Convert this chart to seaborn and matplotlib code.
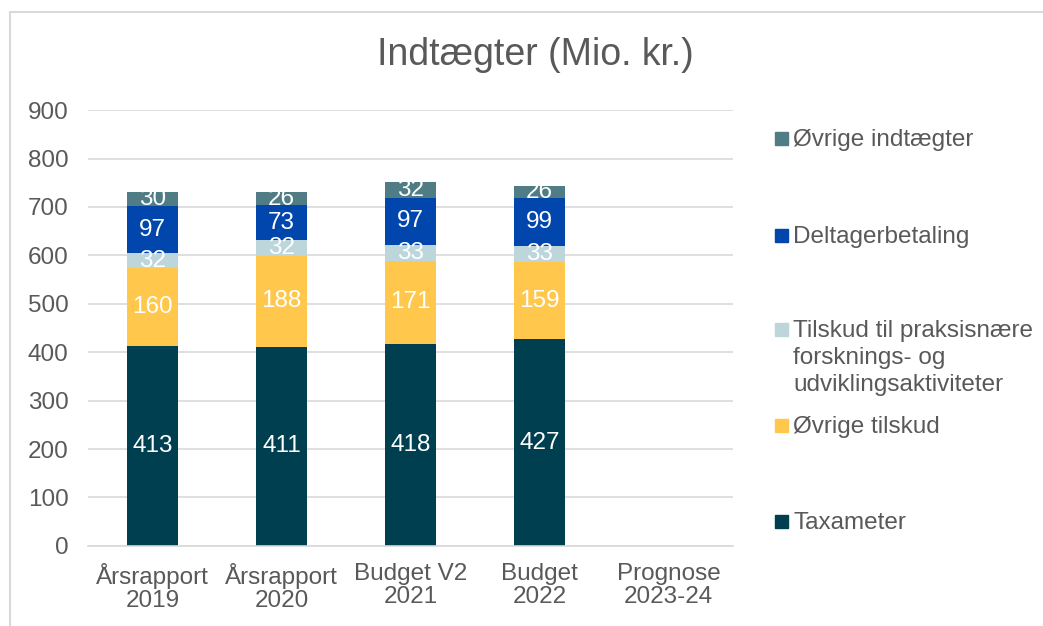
import numpy as np
import pandas as pd
import matplotlib.pyplot as plt
import seaborn as sns

# data
kategorier = ['Årsrapport\n2019', 'Årsrapport\n2020', 'Budget V2\n2021', 'Budget\n2022', 'Prognose\n2023-24']
serier = ['Taxameter', 'Øvrige tilskud',
          'Tilskud til praksisnære\nforsknings- og\nudviklingsaktiviteter',
          'Deltagerbetaling', 'Øvrige indtægter']
taxameter = [413, 411, 418, 427, np.nan]
oevrige_tilskud = [160, 188, 171, 159, np.nan]
tilskud_fou = [32, 32, 33, 33, np.nan]
deltagerbetaling = [97, 73, 97, 99, np.nan]
oevrige_indtaegter = [30, 26, 32, 26, np.nan]
farver = ['#003F4F', '#FFC84C', '#BDD6DC', '#0046AD', '#4F7C85']

vaerdier = [taxameter, oevrige_tilskud, tilskud_fou, deltagerbetaling, oevrige_indtaegter]

sns.set_theme(style='white')
plt.rcParams['font.family'] = ['Liberation Sans', 'DejaVu Sans']
graa = '#595959'
fs = 17.5

fig = plt.figure(figsize=(10.43, 6.26), dpi=100)
ax = fig.add_axes([0.0844, 0.128, 0.703 - 0.0844, 0.824 - 0.128])

# stack: draw cumulative totals from top down
df = pd.DataFrame(dict(zip(serier, vaerdier)))
df['kategori'] = kategorier
kum = df[serier].cumsum(axis=1)
for i in range(len(serier) - 1, -1, -1):
    sns.barplot(x=df['kategori'], y=kum[serier[i]], color=farver[i], width=0.4,
                saturation=1, ax=ax, zorder=2, linewidth=0)

# labels in segments
for j in range(len(kategorier)):
    bund = 0
    for i, s in enumerate(serier):
        v = df[s].iloc[j]
        if np.isnan(v):
            continue
        ax.text(j, bund + v / 2, f'{v:.0f}', ha='center', va='center',
                color='white', fontsize=fs, zorder=3)
        bund += v

ax.set_ylim(0, 900)
ax.set_yticks(range(0, 901, 100))
ax.set_xlim(-0.5, 4.5)
ax.yaxis.grid(True, color='#D9D9D9', linewidth=1.2, zorder=0)
ax.set_axisbelow(True)
for sp in ['top', 'right', 'left']:
    ax.spines[sp].set_visible(False)
ax.spines['bottom'].set_color('#D9D9D9')
ax.spines['bottom'].set_linewidth(1.2)
ax.tick_params(axis='both', length=0, labelsize=fs, labelcolor=graa)
ax.tick_params(axis='x', pad=12)
ax.tick_params(axis='y', pad=14)
for t in ax.get_xticklabels():
    t.set_linespacing(1.1)
ax.set_xlabel('')
ax.set_ylabel('')

fig.text(0.513, 0.912, 'Indtægter (Mio. kr.)', ha='center', va='center',
         fontsize=27, color=graa)

# legend, placed like the original (top entry first)
leg_y = [521, 425, 329, 235, 138]
for i in range(len(serier)):
    yf = 1 - leg_y[i] / 626
    fig.add_artist(plt.Rectangle((775 / 1043, yf - 6.5 / 626), 13 / 1043, 13 / 626,
                                 transform=fig.transFigure, color=farver[i]))
    fig.text(793 / 1043, yf + 9 / 626, serier[i], ha='left', va='top',
             fontsize=fs, color=graa, linespacing=1.3)

# chart border (left and top visible)
fig.add_artist(plt.Rectangle((0.0096, -0.1), 1.2, 1.081, transform=fig.transFigure,
                             fill=False, edgecolor='#D9D9D9', linewidth=1.5))

fig.savefig('out.png', dpi=100)
